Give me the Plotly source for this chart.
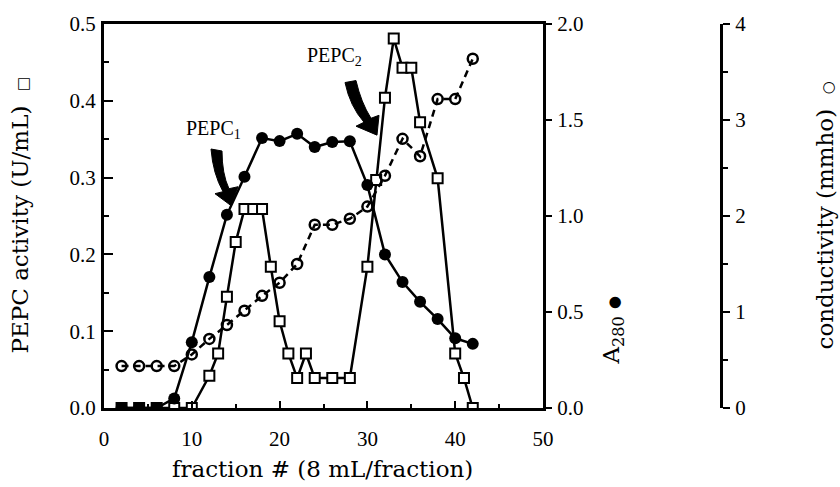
import plotly.graph_objects as go

# ---------------- data ----------------
frac_pepc = [2, 4, 6, 8, 10, 12, 13, 14, 15, 16, 17, 18, 19, 20, 21, 22, 23, 24, 26, 28,
             30, 31, 32, 33, 34, 35, 36, 38, 40, 41, 42]
pepc_activity = [0, 0, 0, 0, 0, 0.042, 0.071, 0.145, 0.216, 0.259, 0.259, 0.259, 0.184, 0.113,
                 0.071, 0.039, 0.071, 0.039, 0.039, 0.039, 0.184, 0.297, 0.404, 0.481, 0.443,
                 0.443, 0.372, 0.299, 0.071, 0.039, 0]

frac_even = [2, 4, 6, 8, 10, 12, 14, 16, 18, 20, 22, 24, 26, 28, 30, 32, 34, 36, 38, 40, 42]
a280 = [0, 0, 0, 0.05, 0.343, 0.682, 1.006, 1.204, 1.406, 1.39, 1.428, 1.359, 1.385, 1.389,
        1.161, 0.80, 0.656, 0.553, 0.463, 0.363, 0.334]
conductivity = [0.437, 0.437, 0.437, 0.437, 0.558, 0.72, 0.865, 1.013, 1.168, 1.305, 1.50,
                1.909, 1.909, 1.971, 2.098, 2.419, 2.804, 2.622, 3.218, 3.218, 3.638]

x_ticks = [0, 10, 20, 30, 40, 50]
y1_ticks = [0.0, 0.1, 0.2, 0.3, 0.4, 0.5]
y2_ticks = [0.0, 0.5, 1.0, 1.5, 2.0]
y3_ticks = [0, 1, 2, 3, 4]

# ---------------- layout geometry ----------------
W, H = 840, 487
ML, MT = 104, 21
PLOT_R = 543      # right edge of main plot (px)
AX3 = 721         # third axis position (px)
MB = H - 408
MR = W - AX3
PW = AX3 - ML
PH = H - MT - MB

FONT = "Liberation Serif"
TFONT = "DejaVu Serif"
FS = 21
TS = 23


def px(xp, yp):
    return (xp - ML) / PW, (H - MB - yp) / PH


def path_from(points):
    out = []
    for cmd, *pts in points:
        coords = []
        for i in range(0, len(pts), 2):
            a, b = px(pts[i], pts[i + 1])
            coords.append(f"{a:.5f},{b:.5f}")
        out.append(cmd + " " + " ".join(coords))
    return " ".join(out) + " Z"


fig = go.Figure()

fig.add_trace(go.Scatter(
    x=frac_even, y=conductivity, yaxis="y3", mode="lines+markers",
    line=dict(color="black", width=2.5, dash="7px,5px"),
    marker=dict(symbol="circle-open", size=10, color="black", line=dict(width=2.5)),
    showlegend=False))

fig.add_trace(go.Scatter(
    x=frac_even, y=a280, yaxis="y2", mode="lines+markers",
    line=dict(color="black", width=2.5),
    marker=dict(symbol="circle", size=12, color="black"),
    showlegend=False))

fig.add_trace(go.Scatter(
    x=frac_pepc, y=pepc_activity, yaxis="y", mode="lines+markers",
    line=dict(color="black", width=2.5),
    marker=dict(symbol="square", size=10, color="white", line=dict(width=2, color="black")),
    showlegend=False))

xdom = (PLOT_R - ML) / PW

# curved arrows (decorations)
arrow1 = path_from([
    ("M", 211, 147), ("L", 222, 149), ("Q", 222, 172, 229, 187), ("L", 238, 185),
    ("L", 231, 204), ("L", 215, 192), ("L", 223, 190), ("Q", 213, 172, 211, 147)])
arrow2 = path_from([
    ("M", 345, 80), ("L", 356, 78), ("Q", 361, 100, 371, 116), ("L", 379, 113),
    ("L", 377, 133), ("L", 356, 124), ("L", 364, 120), ("Q", 350, 104, 345, 80)])

shapes = [
    dict(type="path", path=arrow1, xref="paper", yref="paper", fillcolor="black",
         line=dict(color="black", width=1)),
    dict(type="path", path=arrow2, xref="paper", yref="paper", fillcolor="black",
         line=dict(color="black", width=1)),
]

ann = []
def add_text(text, xp, yp, angle=0, size=TS, family=TFONT, xanchor="center"):
    a, b = px(xp, yp)
    ann.append(dict(text=text, x=a, y=b, xref="paper", yref="paper", showarrow=False,
                    textangle=angle, xanchor=xanchor, yanchor="middle",
                    font=dict(family=family, size=size, color="black")))

def sym(ch):
    return f'<span style="font-size:15px;font-weight:bold">{ch}</span>'

add_text("PEPC activity (U/mL)  " + sym("\u25a1"), 20, 214, angle=-90)
add_text("fraction # (8 mL/fraction)", 322, 469)
add_text("A<sub>280</sub> " + sym("\u25cf"), 613, 330, angle=-90)
add_text("conductivity (mmho)  " + sym("\u25cb"), 825, 214, angle=-90)
add_text("PEPC<sub>1</sub>", 184, 127, size=20, family=FONT, xanchor="left")
add_text("PEPC<sub>2</sub>", 305, 54, size=20, family=FONT, xanchor="left")

axis_common = dict(showline=True, linecolor="black", linewidth=3, showgrid=False,
                   zeroline=False, tickcolor="black", tickwidth=2,
                   tickfont=dict(family=FONT, size=FS, color="black"))

fig.update_layout(
    width=W, height=H,
    margin=dict(l=ML, r=MR, t=MT, b=MB, pad=0),
    paper_bgcolor="white", plot_bgcolor="white",
    xaxis=dict(domain=[0, xdom], range=[0, 50], tickvals=x_ticks, ticks="inside",
               ticklen=7, mirror=True, ticklabelstandoff=10,
               minor=dict(dtick=5, ticks="inside", ticklen=4, tickwidth=2, tickcolor="black"),
               **axis_common),
    yaxis=dict(range=[0, 0.5], tickvals=y1_ticks, tickformat=".1f", ticks="inside",
               ticklen=9, ticklabelstandoff=1,
               minor=dict(dtick=0.05, ticks="inside", ticklen=5, tickwidth=2, tickcolor="black"),
               **axis_common),
    yaxis2=dict(range=[0, 2.0], tickvals=y2_ticks, tickformat=".1f", overlaying="y",
                side="right", anchor="x", ticks="outside", ticklen=6,
                ticklabelstandoff=1, **axis_common),
    yaxis3=dict(range=[0, 4], tickvals=y3_ticks, overlaying="y", side="right",
                anchor="free", position=1.0, ticks="outside", ticklen=7,
                ticklabelstandoff=1,
                minor=dict(dtick=0.5, ticks="outside", ticklen=5, tickwidth=2, tickcolor="black"),
                **axis_common),
    shapes=shapes,
    annotations=ann,
)

fig.write_html("out.html")
